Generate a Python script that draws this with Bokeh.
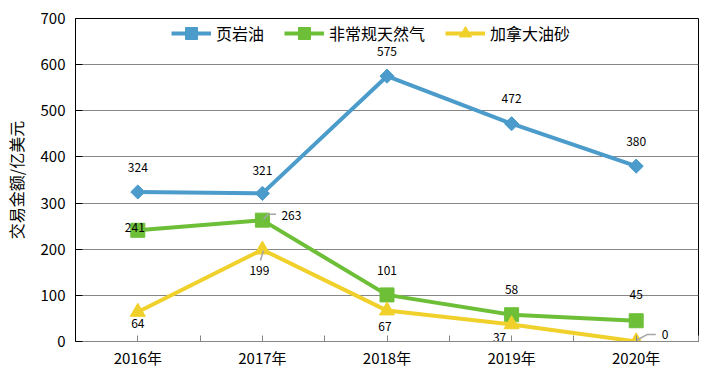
import math
from bokeh.plotting import figure
from bokeh.models import FixedTicker, Legend, LegendItem, ColumnDataSource
from bokeh.core.properties import value
from bokeh.embed import file_html
from bokeh.resources import INLINE

# ---- data ----
years = ["2016年", "2017年", "2018年", "2019年", "2020年"]
shale_oil = [324, 321, 575, 472, 380]
unconv_gas = [241, 263, 101, 58, 45]
oil_sands = [64, 199, 67, 37, 0]
series_names = ["页岩油", "非常规天然气", "加拿大油砂"]
y_ticks = [0, 100, 200, 300, 400, 500, 600, 700]
y_title = "交易金额/亿美元"

# ---- style / layout ----
colors = ["#4B9BCB", "#6DBF38", "#F0D02A"]
FONT = "Noto Sans CJK SC"
W, H = 700, 370
ML, MR, MT, MB = 61, 2, 18, 26
FW, FH = W - ML - MR, H - MT - MB
YMAX = 700
NCAT = len(years)
px_x = NCAT / FW      # data units per pixel (x)
px_y = YMAX / FH      # data units per pixel (y)

# label offsets in screen pixels (dx, dy; dy positive = down)
label_offsets = [
    [(0, -24), (0, -23), (0, -25), (0, -25), (0, -25)],
    [(-3, -3), (29, -5), (0, -24), (0, -25), (0, -26)],
    [(0, 12), (-3, 21), (-2, 16), (-12, 13), (29, -7)],
]
# leader lines: (series, index, list of pixel offsets from the point)
leaders = [
    (1, 1, [(1, -1), (6, -6), (14, -6)]),
    (2, 1, [(-2, 11), (1, 1)]),
    (2, 4, [(0, -1), (11, -7), (20, -7)]),
]

xs = [i + 0.5 for i in range(NCAT)]
all_series = [shale_oil, unconv_gas, oil_sands]

p = figure(width=W, height=H, output_backend="svg", toolbar_location=None,
           x_range=(0, NCAT), y_range=(0, YMAX),
           min_border_left=ML, min_border_right=MR,
           min_border_top=MT, min_border_bottom=MB)
p.background_fill_color = "white"
p.border_fill_color = "white"
p.outline_line_color = "black"
p.outline_line_width = 1

# grid
p.xgrid.grid_line_color = None
p.ygrid.grid_line_color = "#868686"
p.ygrid.grid_line_width = 1
p.ygrid.ticker = FixedTicker(ticks=y_ticks)

# x axis
xt = [i * 0.5 for i in range(2 * NCAT + 1)]
p.xaxis.ticker = FixedTicker(ticks=xt)
overrides = {}
for t in xt:
    overrides[t] = ""
for i, y in enumerate(years):
    overrides[i + 0.5] = y
p.xaxis.major_label_overrides = overrides
p.xaxis.axis_line_color = "#868686"
p.xaxis.major_tick_line_color = "#868686"
p.xaxis.major_tick_in = 6
p.xaxis.major_tick_out = 0
p.xaxis.minor_tick_line_color = None
p.xaxis.major_label_text_font = FONT
p.xaxis.major_label_text_font_size = "15px"
p.xaxis.major_label_text_color = "black"
p.xaxis.major_label_standoff = 5

# y axis
p.yaxis.ticker = FixedTicker(ticks=y_ticks)
p.yaxis.axis_line_color = "black"
p.yaxis.major_tick_line_color = "black"
p.yaxis.major_tick_in = 7
p.yaxis.major_tick_out = 0
p.yaxis.minor_tick_line_color = None
p.yaxis.major_label_text_font = FONT
p.yaxis.major_label_text_font_size = "15px"
p.yaxis.major_label_text_color = "black"
p.yaxis.major_label_standoff = 10
p.yaxis.axis_label = y_title
p.yaxis.axis_label_text_font = FONT
p.yaxis.axis_label_text_font_size = "16px"
p.yaxis.axis_label_text_font_style = "normal"
p.yaxis.axis_label_text_color = "black"
p.yaxis.axis_label_standoff = 10

markers = [("square", 10, math.pi / 4), ("square", 14, 0), ("triangle", 15, 0)]
items = []
for s, vals in enumerate(all_series):
    src = ColumnDataSource(dict(x=xs, y=vals))
    lr = p.line("x", "y", source=src, line_color=colors[s], line_width=4)
    m, sz, ang = markers[s]
    sr = p.scatter("x", "y", source=src, marker=m, size=sz, angle=ang,
                   fill_color=colors[s], line_color=colors[s])
    items.append(LegendItem(label=series_names[s], renderers=[lr, sr]))

# leader lines
lx, ly = [], []
for s, i, pts in leaders:
    x0, y0 = xs[i], all_series[s][i]
    lx.append([x0 + dx * px_x for dx, dy in pts])
    ly.append([y0 - dy * px_y for dx, dy in pts])
p.multi_line(lx, ly, line_color="#A6A6A6", line_width=1.5)

legend = Legend(items=items, orientation="horizontal",
                location=(96, FH - 33),
                border_line_color=None, background_fill_alpha=0,
                label_text_font=FONT, label_text_font_size="16px",
                label_text_color="black",
                glyph_width=40, glyph_height=30, spacing=20,
                label_standoff=5, padding=0, margin=0)
p.add_layout(legend)

# data labels
for s, vals in enumerate(all_series):
    src = ColumnDataSource(dict(
        x=xs, y=vals, t=[str(v) for v in vals],
        dx=[o[0] for o in label_offsets[s]],
        dy=[o[1] for o in label_offsets[s]]))
    p.text("x", "y", text="t", source=src, x_offset="dx", y_offset="dy",
           text_align="center", text_baseline="middle",
           text_font=value(FONT), text_font_size="12px", text_color="black")

open("out.html", "w").write(file_html(p, INLINE))
